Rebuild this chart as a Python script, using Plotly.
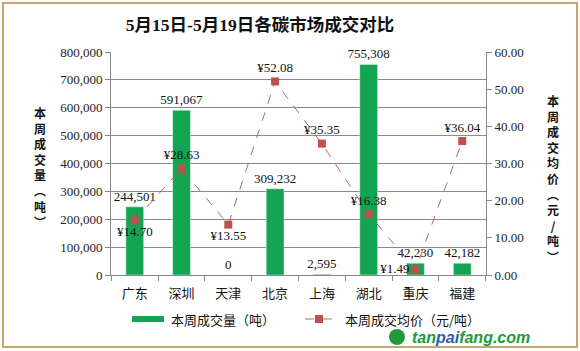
import plotly.graph_objects as go

categories = ["广东", "深圳", "天津", "北京", "上海", "湖北", "重庆", "福建"]
volume = [244501, 591067, 0, 309232, 2595, 755308, 42230, 42182]
price = [14.70, 28.63, 13.55, 52.08, 35.35, 16.38, 1.49, 36.04]
price_pos = ["bottom center", "top center", "bottom center", "top center",
             "top center", "top center", "middle left", "top center"]
left_ticks = [0, 100000, 200000, 300000, 400000, 500000, 600000, 700000, 800000]
right_ticks = [0, 10, 20, 30, 40, 50, 60]
bar_name = "本周成交量（吨）"
line_name = "本周成交均价（元/吨）"

W, H = 580, 351
L, R, T, B = 111, 94, 52, 76
PW, PH = W - L - R, H - T - B

def px(x):
    return (x - L) / PW

def py(y):
    return (H - B - y) / PH

SERIF = "Times New Roman, Liberation Serif, Noto Sans CJK SC"
CJK = "Noto Sans CJK SC, SimSun, sans-serif"
BAR_C = "#13a452"
LINE_C = "#b26868"
MK_C = "#c0504d"

fig = go.Figure()
fig.add_trace(go.Bar(
    x=categories, y=volume, name=bar_name,
    marker=dict(color=BAR_C),
    text=[f"{v:,}" for v in volume], textposition="outside",
    constraintext="none",
    textfont=dict(family=SERIF, size=13, color="#111"),
    cliponaxis=False, width=0.38, showlegend=False,
))
fig.add_trace(go.Scatter(
    x=categories, y=price, name=line_name, yaxis="y2",
    mode="lines+markers+text",
    line=dict(color=LINE_C, width=1, dash="dash"),
    marker=dict(symbol="square", size=8, color=MK_C),
    text=[f"¥{v:.2f}" for v in price], textposition=price_pos,
    textfont=dict(family=SERIF, size=13, color="#111"),
    cliponaxis=False, showlegend=False,
))

fig.update_layout(
    width=W, height=H,
    margin=dict(l=L, r=R, t=T, b=B),
    paper_bgcolor="white", plot_bgcolor="white",
    title=dict(text="<b>5月15日-5月19日各碳市场成交对比</b>", x=px(260), xref="paper",
               xanchor="center", y=1 - 25 / H, yanchor="middle",
               font=dict(family=SERIF, size=17.5, color="#111")),
    xaxis=dict(showline=True, linecolor="#888", ticks="outside", tickson="boundaries",
               ticklen=5, tickcolor="#888", ticklabelstandoff=6,
               tickfont=dict(family=CJK, size=13, color="#111")),
    yaxis=dict(range=[0, 800000], tickvals=left_ticks,
               ticktext=[f"{v:,}" for v in left_ticks],
               showgrid=True, gridcolor="#8a8a8a", gridwidth=1,
               showline=True, linecolor="#888", ticks="outside", ticklen=5, tickcolor="#888",
               tickfont=dict(family=SERIF, size=13, color="#222"), zeroline=False),
    yaxis2=dict(range=[0, 60], tickvals=right_ticks,
                ticktext=[f"{v:.2f}" for v in right_ticks],
                overlaying="y", side="right", showgrid=False,
                showline=True, linecolor="#888", ticks="outside", ticklen=5, tickcolor="#888",
                tickfont=dict(family=SERIF, size=13, color="#222"), zeroline=False),
    showlegend=False,
    bargap=0.6,
)

# vertical axis titles
fig.add_annotation(text="<b>" + "<br>".join(list("本周成交量︵吨︶")) + "</b>",
                   xref="paper", yref="paper", x=px(40), y=py(167), showarrow=False,
                   font=dict(family=CJK, size=12, color="#111"),
                   xanchor="center", yanchor="middle")
fig.add_annotation(text="<b>" + "<br>".join(list("本周成交均价︵元/吨︶")) + "</b>",
                   xref="paper", yref="paper", x=px(553), y=py(178), showarrow=False,
                   font=dict(family=CJK, size=12, color="#111"),
                   xanchor="center", yanchor="middle")

# legend (drawn)
LY = 319
fig.add_shape(type="rect", xref="paper", yref="paper",
              x0=px(132), x1=px(164), y0=py(LY + 3), y1=py(LY - 3),
              fillcolor=BAR_C, line=dict(width=0))
fig.add_annotation(text=bar_name, xref="paper", yref="paper", x=px(169), y=py(LY),
                   showarrow=False, xanchor="left", yanchor="middle",
                   font=dict(family=CJK, size=13, color="#111"))
fig.add_shape(type="line", xref="paper", yref="paper",
              x0=px(305), x1=px(333), y0=py(LY), y1=py(LY),
              line=dict(color=LINE_C, width=1, dash="dash"))
fig.add_shape(type="rect", xref="paper", yref="paper",
              x0=px(315), x1=px(323), y0=py(LY + 4), y1=py(LY - 4),
              fillcolor=MK_C, line=dict(width=0))
fig.add_annotation(text=line_name, xref="paper", yref="paper", x=px(343), y=py(LY),
                   showarrow=False, xanchor="left", yanchor="middle",
                   font=dict(family=CJK, size=13, color="#111"))

# watermark
fig.add_shape(type="circle", xref="paper", yref="paper",
              x0=px(389), x1=px(405), y0=py(345), y1=py(329),
              fillcolor="#1e9a3c", line=dict(width=0))
fig.add_annotation(text="<b><i><span style='color:#1e9a3c'>tan</span>"
                        "<span style='color:#2a5db0'>pai</span>"
                        "<span style='color:#1e9a3c'>fang.com</span></i></b>",
                   xref="paper", yref="paper", x=px(410), y=py(337.5), showarrow=False,
                   xanchor="left", yanchor="middle",
                   font=dict(family="Liberation Sans, Arial, sans-serif", size=16))

# outer frame
fig.add_shape(type="rect", xref="paper", yref="paper",
              x0=px(3), x1=px(577), y0=py(347), y1=py(3),
              line=dict(color="#c9a66f", width=2), layer="below")

fig.write_html("out.html")
